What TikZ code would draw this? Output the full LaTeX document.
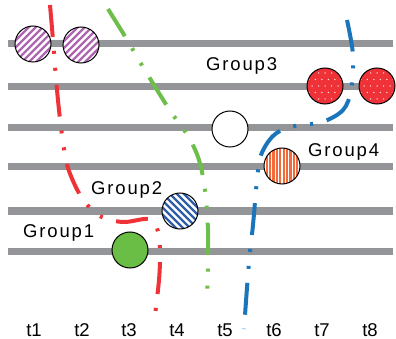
\documentclass[tikz,border=0pt]{standalone}
\usepackage{fontspec}
\setmainfont{Liberation Sans}
\definecolor{trackgray}{HTML}{939598}
\definecolor{redline}{HTML}{EE3238}
\definecolor{greenline}{HTML}{6DBE4B}
\definecolor{blueline}{HTML}{1B75BB}
\definecolor{hatchpurple}{HTML}{AE66B0}
\definecolor{hatchblue}{HTML}{2F5DA8}
\definecolor{stripeorange}{HTML}{F26B3A}
\definecolor{discred}{HTML}{EE3238}
\definecolor{discgreen}{HTML}{6ABD45}
\begin{document}
\begin{tikzpicture}[x=1pt,y=-1pt,
  track/.style={line width=7pt, draw=trackgray},
  traj/.style={line width=4pt, dash pattern=on 32pt off 14pt on 3pt off 14pt on 3pt off 14pt},
  disc/.style={circle, minimum size=36pt, inner sep=0pt, draw=black, line width=1pt},
  purplehatch/.style={disc, fill=white, path picture={
      \foreach \k in {-49,-42,...,49}
        \draw[hatchpurple, line width=2.4pt]
          ([xshift=\k pt]path picture bounding box.center) +(-22pt,-22pt) -- +(22pt,22pt);}},
  bluehatch/.style={disc, fill=white, path picture={
      \foreach \k in {-49,-42,...,49}
        \draw[hatchblue, line width=2.4pt]
          ([xshift=\k pt]path picture bounding box.center) +(-22pt,22pt) -- +(22pt,-22pt);}},
  orangestripes/.style={disc, fill=stripeorange, path picture={
      \foreach \k in {-20.4,-17,...,20.4}
        \draw[white, line width=1.2pt]
          ([xshift=\k pt]path picture bounding box.center) +(0,-20pt) -- +(0,20pt);}},
  reddots/.style={disc, fill=discred, path picture={
      \foreach \j in {-3,...,3}{
        \foreach \i in {-3,...,3}{
          \pgfmathsetmacro\dx{(\i+0.5*mod(\j+4,2))*6.5}
          \pgfmathsetmacro\dy{\j*6.5}
          \fill[white!85!discred] ([xshift=\dx pt, yshift=\dy pt]path picture bounding box.center) circle (0.75pt);
        }}}},
  lbl/.style={font=\fontsize{18.5}{20}\selectfont\addfontfeature{LetterSpace=10}, inner sep=0pt},
  tick/.style={font=\fontsize{18.5}{20}\selectfont, inner sep=0pt, anchor=base}
]
\useasboundingbox (0,0) rectangle (396,339);

% time tracks
\foreach \y in {44,87,128,167,211,251}
  \draw[track] (8,\y) -- (393,\y);

% group trajectories
\draw[traj, redline] plot[smooth, tension=0.55] coordinates
  {(50,5) (53,40) (57,90) (62,135) (68,168) (82,198) (100,216) (123,222) (148,219) (157,228) (160,250) (159,280) (154,323)};
\draw[traj, greenline] plot[smooth, tension=0.55] coordinates
  {(108,9) (126,38) (143,67) (169,109) (188,136) (199,160) (205,190) (208,230) (208,265) (207,299)};
\draw[traj, blueline] plot[smooth, tension=0.55] coordinates
  {(347,20) (353,55) (351,90) (343,110) (322,122) (290,127) (273,136) (261,155) (257,180) (253,225) (249,262) (244,329)};

% events
\node[purplehatch] (p1) at (33,44) {};
\node[purplehatch] (p2) at (81,45) {};
\node[reddots] (r1) at (325,86) {};
\node[reddots] (r2) at (377,86) {};
\node[disc, fill=white] (w) at (230,129) {};
\node[orangestripes] (o) at (282,166) {};
\node[bluehatch] (b) at (180,211) {};
\node[disc, fill=discgreen] (g) at (130,250) {};

% group labels
\node[lbl, anchor=base west] (g3) at (206,71) {Group3};
\node[lbl, anchor=base west] (g4) at (308,157) {Group4};
\node[lbl, anchor=base west] (g2) at (91,195) {Group2};
\node[lbl, anchor=base west] (g1) at (23,237) {Group1};

% time axis labels
\foreach \i/\x in {1/34,2/82,3/129,4/177,5/225,6/274,7/322,8/370}
  \node[tick] (t\i) at (\x,336) {t\i};
\end{tikzpicture}
\end{document}
